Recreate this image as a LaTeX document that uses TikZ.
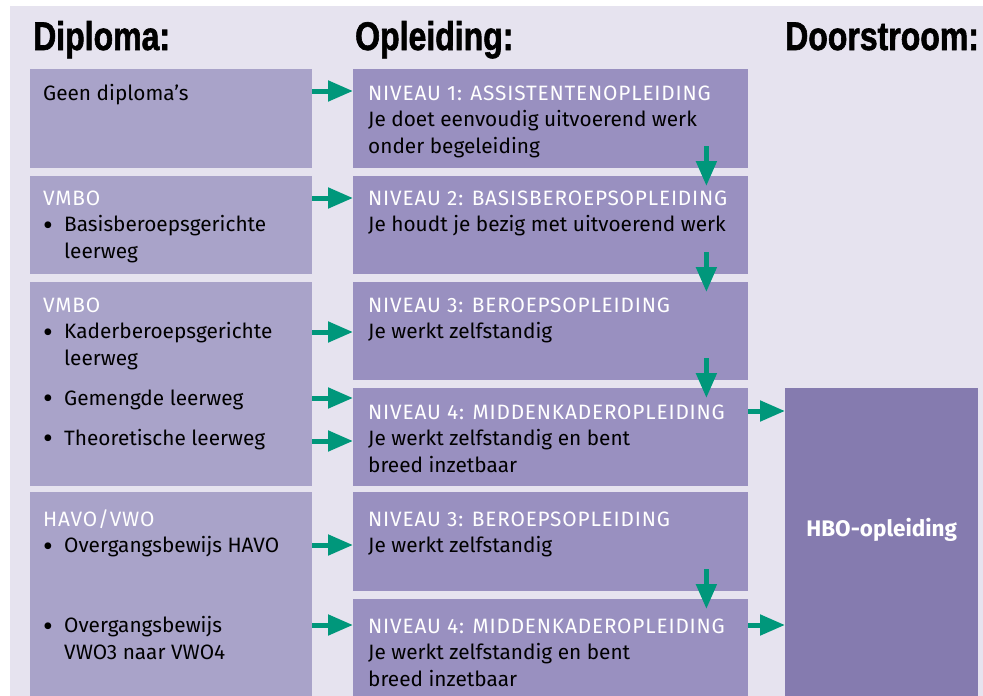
\documentclass[tikz,border=0pt]{standalone}
\usepackage{fontspec}
\setmainfont{Fira Sans}
\newfontfamily\kopfont[FakeStretch=0.8,FakeBold=1.5]{Liberation Sans Bold}
\usetikzlibrary{arrows.meta}

\definecolor{achtergrond}{HTML}{E6E3EF}
\definecolor{diplomakleur}{HTML}{A9A3C9}
\definecolor{opleidingkleur}{HTML}{9990C0}
\definecolor{hbokleur}{HTML}{857BAF}
\definecolor{groen}{HTML}{00977B}

\tikzset{
	diploma/.style={fill=diplomakleur, anchor=north west, minimum width=282pt, inner sep=0pt},
	opleiding/.style={fill=opleidingkleur, anchor=north west, minimum width=395pt, inner sep=0pt},
	kop/.style={font=\kopfont\fontsize{40}{40}\selectfont, anchor=base west, inner sep=0pt},
	% anchor base = baseline of the last line
	tekst/.style={font=\fontsize{20.8}{26.5}\selectfont, align=left, anchor=base west, inner sep=0pt},
	pijl/.style={draw=groen, line width=5pt, -{Triangle[length=25pt,width=20pt]}}
}

\begin{document}
\begin{tikzpicture}[x=1pt, y=-1pt]
	\useasboundingbox (0,0) rectangle (983,696);
	\fill[achtergrond] (10,6) rectangle (983,696);

	\newcommand*{\bol}{\makebox[21pt][l]{\raisebox{-3.5pt}{\fontsize{30}{0}\selectfont •}}} % bullet
	\newcommand*{\inspr}{\hspace*{21pt}}      % indent
	\newcommand*{\wit}[1]{\textcolor{white}{\addfontfeature{LetterSpace=4}#1}}

	% headers
	\node[kop] (hdiploma) at (33,50) {Diploma:};
	\node[kop] (hopleiding) at (355,50) {Opleiding:};
	\node[kop] (hdoorstroom) at (785,50) {Doorstroom:};

	% boxes
	\node[diploma, minimum height=99pt] (l1) at (30,69) {};
	\node[diploma, minimum height=98pt] (l2) at (30,176) {};
	\node[diploma, minimum height=204pt] (l3) at (30,282) {};
	\node[diploma, minimum height=204pt] (l4) at (30,492) {};

	\node[opleiding, minimum height=99pt] (m1) at (353,69) {};
	\node[opleiding, minimum height=98pt] (m2) at (353,176) {};
	\node[opleiding, minimum height=98pt] (m3) at (353,282) {};
	\node[opleiding, minimum height=98pt] (m4) at (353,388) {};
	\node[opleiding, minimum height=99pt] (m5) at (353,492) {};
	\node[opleiding, minimum height=97pt] (m6) at (353,599) {};

	\node[fill=hbokleur, anchor=north west, minimum width=193pt, minimum height=308pt, inner sep=0pt] (hbo) at (785,388) {};

	% texts
	\node[tekst] (tl1) at (43,100) {Geen diploma’s};
	\node[tekst] (tl2) at (43,258) {\wit{VMBO}\\ \bol Basisberoepsgerichte\\ \inspr leerweg};
	\node[tekst] (tl3) at (43,445) {\wit{VMBO}\\ \bol Kaderberoepsgerichte\\ \inspr leerweg\\[13.5pt] \bol Gemengde leerweg\\[13.5pt] \bol Theoretische leerweg};
	\node[tekst] (tl4) at (43,659) {\wit{HAVO/VWO}\\ \bol Overgangsbewijs HAVO\\[53.5pt] \bol Overgangsbewijs\\ \inspr VWO3 naar VWO4};

	\node[tekst] (tm1) at (368,153) {\wit{NIVEAU 1: ASSISTENTENOPLEIDING}\\ Je doet eenvoudig uitvoerend werk\\ onder begeleiding};
	\node[tekst] (tm2) at (368,231.5) {\wit{NIVEAU 2: BASISBEROEPSOPLEIDING}\\ Je houdt je bezig met uitvoerend werk};
	\node[tekst] (tm3) at (368,338.5) {\wit{NIVEAU 3: BEROEPSOPLEIDING}\\ Je werkt zelfstandig};
	\node[tekst] (tm4) at (368,472) {\wit{NIVEAU 4: MIDDENKADEROPLEIDING}\\ Je werkt zelfstandig en bent\\ breed inzetbaar};
	\node[tekst] (tm5) at (368,552.5) {\wit{NIVEAU 3: BEROEPSOPLEIDING}\\ Je werkt zelfstandig};
	\node[tekst] (tm6) at (368,686) {\wit{NIVEAU 4: MIDDENKADEROPLEIDING}\\ Je werkt zelfstandig en bent\\ breed inzetbaar};

	\node[font=\bfseries\fontsize{22.5}{22.5}\selectfont, text=white] (thbo) at ([yshift=12pt]hbo.center) {HBO-opleiding};

	% arrows diploma -> opleiding
	\draw[pijl] ([yshift=-22pt]l1.north east) -- ([yshift=-22pt]m1.north west);
	\draw[pijl] ([yshift=-22pt]l2.north east) -- ([yshift=-22pt]m2.north west);
	\draw[pijl] ([yshift=-50pt]m3.north west -| l3.east) -- ([yshift=-50pt]m3.north west);
	\draw[pijl] ([yshift=-10pt]m4.north west -| l3.east) -- ([yshift=-10pt]m4.north west);
	\draw[pijl] ([yshift=-53pt]m4.north west -| l3.east) -- ([yshift=-53pt]m4.north west);
	\draw[pijl] ([yshift=-53pt]l4.north east) -- ([yshift=-53pt]m5.north west);
	\draw[pijl] ([yshift=-26pt]m6.north west -| l4.east) -- ([yshift=-26pt]m6.north west);

	% arrows opleiding -> opleiding
	\draw[pijl] ([xshift=-42pt,yshift=22pt]m1.south east) -- ([xshift=-42pt,yshift=-10pt]m2.north east);
	\draw[pijl] ([xshift=-42pt,yshift=22pt]m2.south east) -- ([xshift=-42pt,yshift=-10pt]m3.north east);
	\draw[pijl] ([xshift=-42pt,yshift=22pt]m3.south east) -- ([xshift=-42pt,yshift=-10pt]m4.north east);
	\draw[pijl] ([xshift=-42pt,yshift=22pt]m5.south east) -- ([xshift=-42pt,yshift=-10pt]m6.north east);

	% arrows to hbo
	\draw[pijl] ([yshift=-23pt]m4.north east) -- ([yshift=-23pt]m4.north east -| hbo.west);
	\draw[pijl] ([yshift=-26pt]m6.north east) -- ([yshift=-26pt]m6.north east -| hbo.west);

\end{tikzpicture}
\end{document}
